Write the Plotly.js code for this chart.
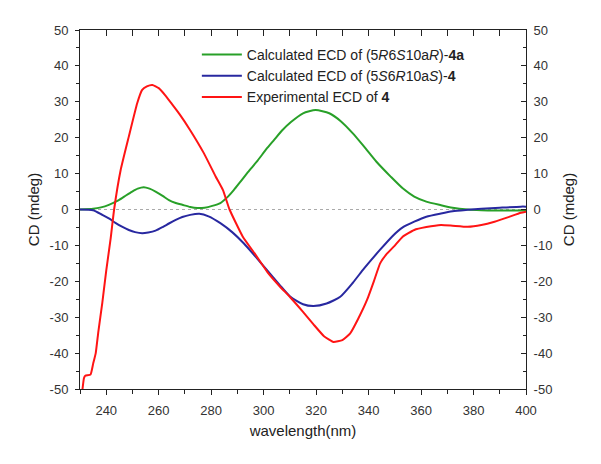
<!DOCTYPE html>
<html>
<head>
<meta charset="utf-8">
<script src="https://cdn.plot.ly/plotly-3.0.1.min.js"></script>
<style>html,body{margin:0;padding:0;background:#fff;}#chart{width:601px;height:464px;}</style>
</head>
<body>
<div id="chart"></div>
<script>
var greenX = [230,235,238,241,244.8,247.5,249.9,252,254.3,256.5,258.8,261.5,263.9,266.5,269,272,274.7,277.5,280.4,283.5,286,288.6,291,294,297.7,301,304,307,310.3,315,319.8,325,329.4,334,338.3,343,348.5,353,357.4,362,367.6,372,377.8,383,388,394,400];
var greenY = [0,0.2,0.6,1.3,2.6,3.9,5,5.8,6.2,5.8,5,3.8,2.6,1.8,1.3,0.7,0.4,0.5,1.0,1.8,3.3,5.4,7.6,10.4,13.6,16.8,19.4,22.0,24.3,26.8,27.7,26.8,24.6,21.2,17.5,13.3,9.1,5.9,3.6,2.2,1.2,0.5,0,-0.2,-0.3,-0.3,-0.3];

var blueX = [230,235,238.5,241,243.5,246,248.6,251,253.7,256,258.8,261.5,263.9,266.5,269,272,275.5,279,283.5,288,292.4,297,301.3,306,310.2,315,319,324,329.2,334,338.3,344.4,349,353,357.4,362,367.6,372,377.8,383,390,398,400];
var blueY = [0,-0.2,-1.5,-2.5,-3.7,-4.8,-5.7,-6.3,-6.6,-6.4,-5.9,-4.9,-3.9,-2.9,-2.1,-1.5,-1.2,-1.9,-3.8,-6.3,-9.4,-13.2,-16.9,-20.9,-24.3,-26.4,-26.9,-26.2,-24.3,-20.4,-16.4,-11.2,-7.5,-5.0,-3.4,-2,-1.1,-0.5,-0.1,0.2,0.5,0.8,0.8];

var redX = [230.8,231.5,232,234,235,236,237,238.5,240,241.7,243,245.5,248.6,251.8,253.7,255.5,257.6,260,262.5,265,268,272,277.2,281.7,284.5,287,292,297,301.5,306,310.2,315,319,323,326.6,330,333,336,339.4,342,344.4,347,349.8,353,357.4,362,367.6,372,377.8,383,388,393,398,400];
var redY = [-51,-47,-46.3,-46,-43,-40,-34,-26,-17,-8,0,11,20.3,29.6,33.3,34.3,34.7,33.8,31.8,29.4,26.5,22.1,15.7,9.2,5.4,0,-7.5,-12.7,-17.5,-21.3,-24.5,-28.5,-32,-35.3,-36.9,-36.4,-34.5,-30.5,-25.2,-20,-15,-12.3,-10.2,-7.6,-5.7,-4.9,-4.3,-4.5,-4.8,-4.3,-3.4,-2.2,-0.9,-0.6];

var names = [
  'Calculated ECD of (5<i>R</i>6<i>S</i>10a<i>R</i>)-<b>4a</b>',
  'Calculated ECD of (5<i>S</i>6<i>R</i>10a<i>S</i>)-<b>4</b>',
  'Experimental ECD of <b>4</b>'
];
var xRange = [230, 400];
var yRange = [-50, 50];
var yTickVals = [-50,-40,-30,-20,-10,0,10,20,30,40,50];
var yTickText = ['-50','-40','-30','-20','-10','0','10','20','30','40','50'];

var font = 'Liberation Sans, Arial, sans-serif';
var traces = [
  {x: greenX, y: greenY, name: names[0], mode: 'lines', line: {color: 'rgb(40,160,40)', width: 2, shape: 'spline', smoothing: 0.6}},
  {x: blueX, y: blueY, name: names[1], mode: 'lines', line: {color: 'rgb(40,40,160)', width: 2, shape: 'spline', smoothing: 0.6}},
  {x: redX, y: redY, name: names[2], mode: 'lines', line: {color: 'rgb(255,20,20)', width: 2, shape: 'spline', smoothing: 0.4}},
  {x: xRange, y: yRange, xaxis: 'x2', yaxis: 'y2', mode: 'none', showlegend: false, hoverinfo: 'skip'}
];

var layout = {
  width: 601, height: 464,
  margin: {l: 79.5, r: 75, t: 30, b: 75},
  paper_bgcolor: '#fff', plot_bgcolor: '#fff',
  font: {family: font, size: 13, color: '#333'},
  showlegend: true,
  legend: {x: 0.262, y: 0.975, xanchor: 'left', yanchor: 'top', bgcolor: 'rgba(0,0,0,0)',
    font: {family: font, size: 14, color: '#222'}, itemwidth: 40, tracegroupgap: 0},
  xaxis: {range: xRange, showgrid: false, zeroline: false, showline: true, linecolor: '#222', linewidth: 1,
    ticks: 'outside', ticklen: 5, tickcolor: '#222', dtick: 20, tick0: 0, ticklabelstandoff: 4,
    minor: {dtick: 10, tick0: 0, ticks: 'outside', ticklen: 4, tickcolor: '#222'},
    tickfont: {family: font, size: 13, color: '#333'},
    title: {text: 'wavelength(nm)', font: {family: font, size: 15, color: '#222'}, standoff: 8}},
  xaxis2: {type: 'linear', range: xRange, overlaying: 'x', side: 'top', anchor: 'y2', showgrid: false, zeroline: false,
    showline: true, linecolor: '#222', linewidth: 1, ticks: 'inside', ticklen: 6, tickwidth: 1, tickcolor: '#222',
    dtick: 10, tick0: 0, showticklabels: false},
  yaxis: {range: yRange, showgrid: false, zeroline: false, showline: true, linecolor: '#222', linewidth: 1,
    ticks: 'outside', ticklen: 4, tickcolor: '#222', tickmode: 'array', tickvals: yTickVals, ticktext: yTickText,
    ticklabelstandoff: 4,
    minor: {dtick: 5, tick0: 0, ticks: 'outside', ticklen: 3, tickcolor: '#222'},
    tickfont: {family: font, size: 13, color: '#333'},
    title: {text: 'CD (mdeg)', font: {family: font, size: 15, color: '#222'}, standoff: 6}},
  yaxis2: {type: 'linear', range: yRange, overlaying: 'y', side: 'right', anchor: 'x2', showgrid: false, zeroline: false,
    showline: true, linecolor: '#222', linewidth: 1, ticks: 'inside', ticklen: 5, tickcolor: '#222',
    tickmode: 'array', tickvals: yTickVals, ticktext: yTickText,
    ticklabelstandoff: 4,
    minor: {dtick: 5, tick0: 0, ticks: 'inside', ticklen: 3, tickcolor: '#222'},
    tickfont: {family: font, size: 13, color: '#333'},
    title: {text: 'CD (mdeg)', font: {family: font, size: 15, color: '#222'}, standoff: 12}},
  shapes: [{type: 'line', xref: 'paper', x0: 0, x1: 1, yref: 'y', y0: 0, y1: 0,
    line: {color: '#aaa', width: 1, dash: 'dot'}, layer: 'below'}]
};

Plotly.newPlot('chart', traces, layout, {displayModeBar: false, staticPlot: true});
</script>
</body>
</html>
